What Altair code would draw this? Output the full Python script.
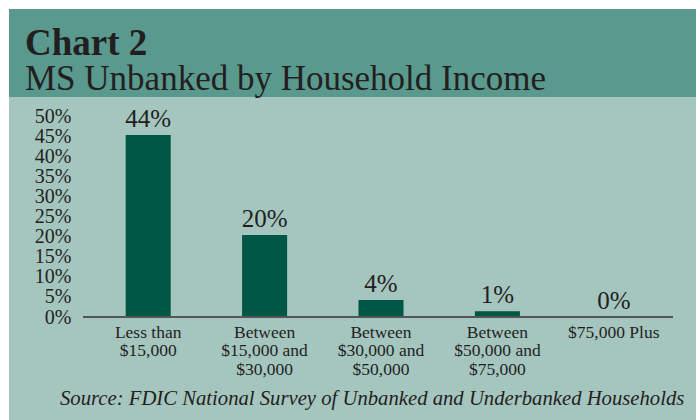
import altair as alt
import pandas as pd

categories = ["Less than\n$15,000", "Between\n$15,000 and\n$30,000", "Between\n$30,000 and\n$50,000",
              "Between\n$50,000 and\n$75,000", "$75,000 Plus"]
values = [45.3, 20.4, 4.2, 1.4, 0.0]
value_labels = ["44%", "20%", "4%", "1%", "0%"]
y_ticks = [0, 5, 10, 15, 20, 25, 30, 35, 40, 45, 50]
title_text = "Chart 2"
subtitle_text = "MS Unbanked by Household Income"
source_text = "Source: FDIC National Survey of Unbanked and Underbanked Households"

W, H = 582, 201
PAD_L, PAD_T, PAD_R, PAD_B = 90, 116, 24, 103
FONT = "Liberation Serif"
TXT = "#231f20"
HEADER = "#5a998e"
PANEL = "#a5c5bf"
BAR = "#005745"

df = pd.DataFrame({"cat": categories, "val": values, "lab": value_labels})
one = alt.Data(values=[{"a": 1}])

header = alt.Chart(one).mark_rect(color=HEADER).encode(
    x=alt.value(9 - PAD_L), x2=alt.value(696 - PAD_L),
    y=alt.value(9 - PAD_T), y2=alt.value(97 - PAD_T))
panel = alt.Chart(one).mark_rect(color=PANEL).encode(
    x=alt.value(9 - PAD_L), x2=alt.value(696 - PAD_L),
    y=alt.value(97 - PAD_T), y2=alt.value(420 - PAD_T))

title = alt.Chart(one).mark_text(font=FONT, fontSize=37, fontWeight="bold", color=TXT,
                                 align="left", baseline="alphabetic").encode(
    x=alt.value(25 - PAD_L), y=alt.value(55 - PAD_T), text=alt.value(title_text))
subtitle = alt.Chart(one).mark_text(font=FONT, fontSize=35, color=TXT,
                                    align="left", baseline="alphabetic").encode(
    x=alt.value(25 - PAD_L), y=alt.value(90 - PAD_T), text=alt.value(subtitle_text))
source = alt.Chart(one).mark_text(font=FONT, fontSize=20.7, fontStyle="italic", color=TXT,
                                  align="left", baseline="alphabetic").encode(
    x=alt.value(60 - PAD_L), y=alt.value(405 - PAD_T), text=alt.value(source_text))

xenc = alt.X("cat:N", sort=categories,
             scale=alt.Scale(paddingInner=0.613, paddingOuter=0.3065),
             axis=alt.Axis(title=None, labelAngle=0, domain=False, ticks=False, zindex=2,
                           labelFont=FONT, labelFontSize=17.5, labelColor=TXT,
                           labelBaseline="alphabetic", labelPadding=20, labelLineHeight=18.5,
                           labelOverlap=False,
                           labelExpr="split(datum.label, '\\n')", labelLimit=200))
yenc = alt.Y("val:Q", scale=alt.Scale(domain=[0, 50], nice=False),
             axis=alt.Axis(title=None, values=y_ticks, domain=False, ticks=False, grid=False,
                           zindex=2, labelFont=FONT, labelFontSize=20, labelColor=TXT,
                           labelPadding=19, labelOverlap=False, labelBound=False,
                           labelExpr="datum.value + '%'"))

base = alt.Chart(df)
bars = base.mark_bar(color=BAR).encode(x=xenc, y=yenc)
labels = base.mark_text(font=FONT, fontSize=25, color=TXT, baseline="alphabetic", dy=-8).encode(
    x=xenc, y=yenc, text="lab:N")
axis_line = alt.Chart(one).mark_rule(color="#555555", strokeWidth=2).encode(
    x=alt.value(-7), x2=alt.value(W + 1), y=alt.value(H))

chart = alt.layer(header, panel, title, subtitle, source, bars, labels, axis_line).properties(
    width=W, height=H,
    autosize=alt.AutoSizeParams(type="none"),
    padding={"left": PAD_L, "top": PAD_T, "right": PAD_R, "bottom": PAD_B},
    background="white",
).configure_view(stroke=None).configure_axis(labelOverlap=False)

chart.save("out.html", embed_options={"renderer": "svg", "actions": False})
